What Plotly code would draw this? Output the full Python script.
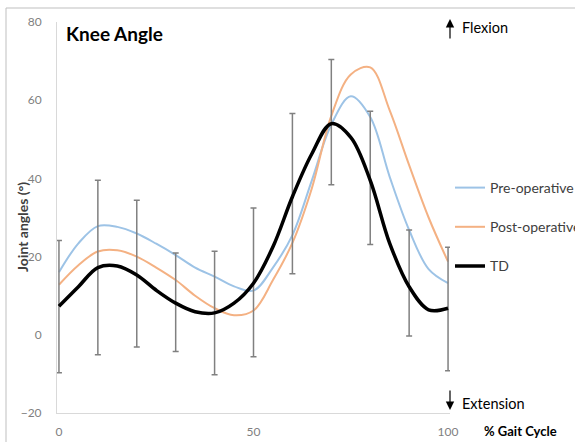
import plotly.graph_objects as go

# ---- data ----
gait_pct = [0, 5, 10, 15, 20, 25, 30, 35, 40, 45, 50, 55, 60, 65, 70, 75, 80, 85, 90, 95, 100]
pre_op = [16.0, 23.4, 27.8, 27.6, 25.9, 23.3, 20.4, 17.2, 14.9, 12.4, 11.3, 17.2, 25.5, 39.5, 53.8, 61.0, 55.7, 40.4, 26.8, 16.8, 13.2]
post_op = [12.8, 17.8, 21.3, 21.6, 20.0, 17.2, 14.0, 10.0, 6.8, 5.0, 6.2, 14.0, 23.5, 37.5, 56.0, 66.6, 68.4, 57.4, 43.4, 30.0, 18.7]
td = [7.3, 12.3, 17.2, 17.6, 15.3, 11.4, 8.1, 5.9, 5.6, 8.1, 13.2, 22.5, 35.3, 46.3, 54.0, 50.5, 39.5, 23.4, 12.3, 6.4, 6.8]

err_x = [0, 10, 20, 30, 40, 50, 60, 70, 80, 90, 100]
err_mean = [7.2, 17.2, 15.65, 8.3, 5.6, 13.4, 36.1, 54.4, 40.15, 13.25, 6.6]
err_sd = [16.9, 22.3, 18.75, 12.6, 15.8, 19.0, 20.5, 16.0, 17.05, 13.55, 15.8]

x_ticks = [0, 50, 100]
y_ticks = [-20, 0, 20, 40, 60, 80]

FONT = "Lato, 'Open Sans', sans-serif"
TICK_GRAY = "#7f7f7f"

fig = go.Figure()

fig.add_trace(go.Scatter(
    x=gait_pct, y=pre_op, mode="lines", name="Pre-operative",
    line=dict(color="#9DC3E6", width=2, shape="spline", smoothing=1.0),
    legendgroup="a"))
fig.add_trace(go.Scatter(
    x=gait_pct, y=post_op, mode="lines", name="Post-operative",
    line=dict(color="#F4B183", width=2, shape="spline", smoothing=1.0),
    legendgroup="b"))
fig.add_trace(go.Scatter(
    x=err_x, y=err_mean, mode="markers", showlegend=False, hoverinfo="skip",
    marker=dict(size=1, color="rgba(0,0,0,0)"),
    error_y=dict(type="data", array=err_sd, visible=True, color="#808080",
                 thickness=1.5, width=3)))
fig.add_trace(go.Scatter(
    x=gait_pct, y=td, mode="lines", name="TD",
    line=dict(color="#000000", width=3.5, shape="spline", smoothing=1.0),
    legendgroup="c"))

L, R, T, B = 57, 125, 22, 29
W, H = 575, 442
pw, ph = W - L - R, H - T - B

def px(xp):
    return (xp - L) / pw

def py(yp):
    return (H - B - yp) / ph

fig.update_layout(
    width=W, height=H,
    margin=dict(l=L, r=R, t=T, b=B, pad=0, autoexpand=False),
    paper_bgcolor="white", plot_bgcolor="white",
    font=dict(family=FONT, size=12, color="#404040"),
    showlegend=True,
    legend=dict(x=px(450), y=py(172), xanchor="left", yanchor="top",
                font=dict(family=FONT, size=14, color="#404040"),
                bgcolor="rgba(0,0,0,0)", tracegroupgap=18, itemwidth=30,
                traceorder="grouped"),
    xaxis=dict(range=[-0.5, 100.5], tickvals=x_ticks, showgrid=False,
               zeroline=False, showline=True, linecolor="#d9d9d9", linewidth=1,
               ticks="", tickfont=dict(family=FONT, size=12, color=TICK_GRAY),
               ticklabelstandoff=8, automargin=False),
    yaxis=dict(range=[-20, 80], tickvals=y_ticks, showgrid=False,
               zeroline=False, showline=True, linecolor="#d9d9d9", linewidth=1,
               ticks="", tickfont=dict(family=FONT, size=12, color=TICK_GRAY),
               ticklabelstandoff=12, automargin=False),
)

annotations = [
    dict(text="<b>Knee Angle</b>", x=px(64), y=py(33), xref="paper", yref="paper",
         xanchor="left", yanchor="middle", showarrow=False,
         font=dict(family=FONT, size=19, color="#000000")),
    dict(text="<b>Joint angles (°)</b>", x=px(22), y=py(227), xref="paper", yref="paper",
         xanchor="center", yanchor="middle", showarrow=False, textangle=-90,
         font=dict(family=FONT, size=14, color="#404040")),
    dict(text="<b>% Gait Cycle</b>", x=px(482), y=py(431), xref="paper", yref="paper",
         xanchor="left", yanchor="middle", showarrow=False,
         font=dict(family=FONT, size=13, color="#000000")),
    dict(text="Flexion", x=px(460), y=py(27), xref="paper", yref="paper",
         xanchor="left", yanchor="middle", showarrow=False,
         font=dict(family=FONT, size=14.5, color="#000000")),
    dict(text="Extension", x=px(460), y=py(403), xref="paper", yref="paper",
         xanchor="left", yanchor="middle", showarrow=False,
         font=dict(family=FONT, size=14.5, color="#000000")),
    # arrows
    dict(text="", x=px(450), y=py(19), xref="paper", yref="paper",
         ax=0, ay=21, showarrow=True, arrowhead=2, arrowsize=1.4, arrowwidth=1.2,
         arrowcolor="#000000"),
    dict(text="", x=px(450), y=py(410), xref="paper", yref="paper",
         ax=0, ay=-21, showarrow=True, arrowhead=2, arrowsize=1.4, arrowwidth=1.2,
         arrowcolor="#000000"),
]
fig.update_layout(annotations=annotations)

# outer chart frame (top and left edges visible)
fig.add_shape(type="rect", xref="paper", yref="paper",
              x0=px(6), x1=px(620), y0=py(480), y1=py(8),
              line=dict(color="#bfbfbf", width=1), fillcolor="rgba(0,0,0,0)",
              layer="below")

fig.write_html(
    "out.html",
    config={"displayModeBar": False},
    post_script="document.body.style.margin='0px';document.body.style.overflow='hidden';",
)
